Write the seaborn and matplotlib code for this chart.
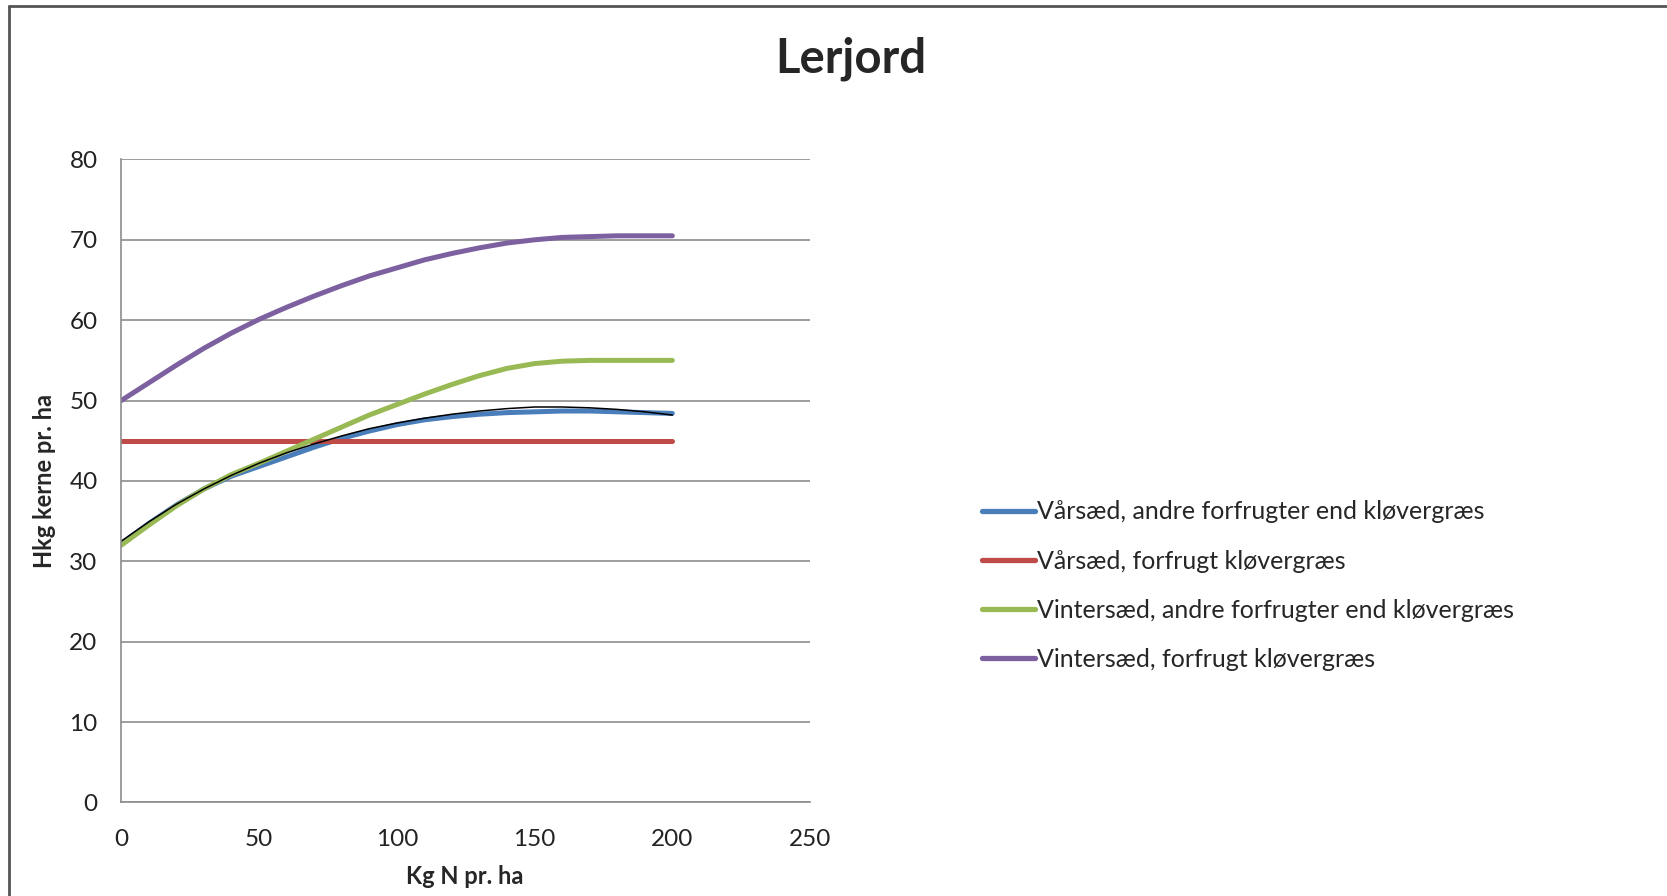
import pandas as pd
import numpy as np
import matplotlib.pyplot as plt
import seaborn as sns
from matplotlib.lines import Line2D

# kg N pr. ha
kg_n = [0, 10, 20, 30, 40, 50, 60, 70, 80, 90, 100,
        110, 120, 130, 140, 150, 160, 170, 180, 190, 200]

# Hkg kerne pr. ha
vaar_andre = [32.2, 34.7, 37.0, 39.0, 40.6, 41.8, 43.0, 44.2, 45.3, 46.2, 47.0,
              47.6, 48.0, 48.3, 48.5, 48.6, 48.7, 48.7, 48.6, 48.5, 48.4]
vaar_klover = [45] * 21
vinter_andre = [32.0, 34.5, 36.9, 39.0, 40.8, 42.2, 43.7, 45.2, 46.7, 48.2, 49.5,
                50.8, 52.0, 53.1, 54.0, 54.6, 54.9, 55.0, 55.0, 55.0, 55.0]
vinter_klover = [50.0, 52.2, 54.4, 56.5, 58.4, 60.1, 61.6, 63.0, 64.3, 65.5, 66.5,
                 67.5, 68.3, 69.0, 69.6, 70.0, 70.3, 70.4, 70.5, 70.5, 70.5]
# tendenslinje (polynomium) for vårsæd, andre forfrugter
trend = [32.5, 34.9, 37.1, 39.0, 40.7, 42.2, 43.5, 44.6, 45.6, 46.5, 47.2,
         47.8, 48.3, 48.7, 49.0, 49.2, 49.2, 49.1, 48.9, 48.6, 48.2]

navne = ["Vårsæd, andre forfrugter end kløvergræs",
         "Vårsæd, forfrugt kløvergræs",
         "Vintersæd, andre forfrugter end kløvergræs",
         "Vintersæd, forfrugt kløvergræs"]
farver = ["#4a7ebb", "#be4b48", "#98b954", "#7d60a0"]
serier = [vaar_andre, vaar_klover, vinter_andre, vinter_klover]

sns.set_style("white")
plt.rcParams['font.family'] = ['Lato', 'DejaVu Sans']

# koordinater målt på et billede i 1568 x 843
W, H = 1568, 843
fig = plt.figure(figsize=(16.67, 8.96), dpi=100)
ax = fig.add_axes([114/W, 1 - 755/H, (762-114)/W, (755-150)/H])

for navn, y, c in zip(navne, serier, farver):
    df = pd.DataFrame({"x": kg_n, "y": y})
    sns.lineplot(data=df, x="x", y="y", ax=ax, color=c, linewidth=3.6,
                 solid_capstyle="round", label=navn)

df_t = pd.DataFrame({"x": kg_n, "y": trend})
sns.lineplot(data=df_t, x="x", y="y", ax=ax, color="black", linewidth=1.1)

ax.set_xlim(0, 250)
ax.set_ylim(0, 80)
ax.set_xticks(range(0, 251, 50))
ax.set_yticks(range(0, 81, 10))
ax.yaxis.grid(True, color="#8c8c8c", linewidth=1.2)
ax.set_axisbelow(True)
for s in ["top", "right"]:
    ax.spines[s].set_visible(False)
for s in ["left", "bottom"]:
    ax.spines[s].set_color("#8c8c8c")
    ax.spines[s].set_linewidth(1.2)
ax.tick_params(axis="both", direction="out", length=7, width=1.2, color="#8c8c8c",
               labelsize=17.5, labelcolor="#222222")
ax.tick_params(axis="y", pad=10)
ax.tick_params(axis="x", pad=12)

ax.set_xlabel("Kg N pr. ha", fontsize=17, fontweight="bold")
ax.set_ylabel("Hkg kerne pr. ha", fontsize=17, fontweight="bold")
ax.xaxis.set_label_coords(0.4985, -0.097)
ax.yaxis.set_label_coords(-0.094, 0.5)

fig.text(800/W, 1 - 55/H, "Lerjord", ha="center", va="center",
         fontsize=34, fontweight="bold")

handles = [Line2D([], [], color=c, linewidth=3.8, solid_capstyle="round") for c in farver]
ax.get_legend().remove()
fig.legend(handles, navne, loc="center left", bbox_to_anchor=(924/W, 1 - 551/H),
           frameon=False, fontsize=18, handlelength=2.1, handletextpad=0.1,
           labelspacing=1.05, borderaxespad=0, borderpad=0)

# ramme om diagramområdet
fig.add_artist(Line2D([8/W, 8/W], [0, 1 - 6/H], transform=fig.transFigure,
                      color="#555555", linewidth=2))
fig.add_artist(Line2D([8/W, 1], [1 - 6/H, 1 - 6/H], transform=fig.transFigure,
                      color="#555555", linewidth=2))

fig.savefig("out.png", dpi=100)
